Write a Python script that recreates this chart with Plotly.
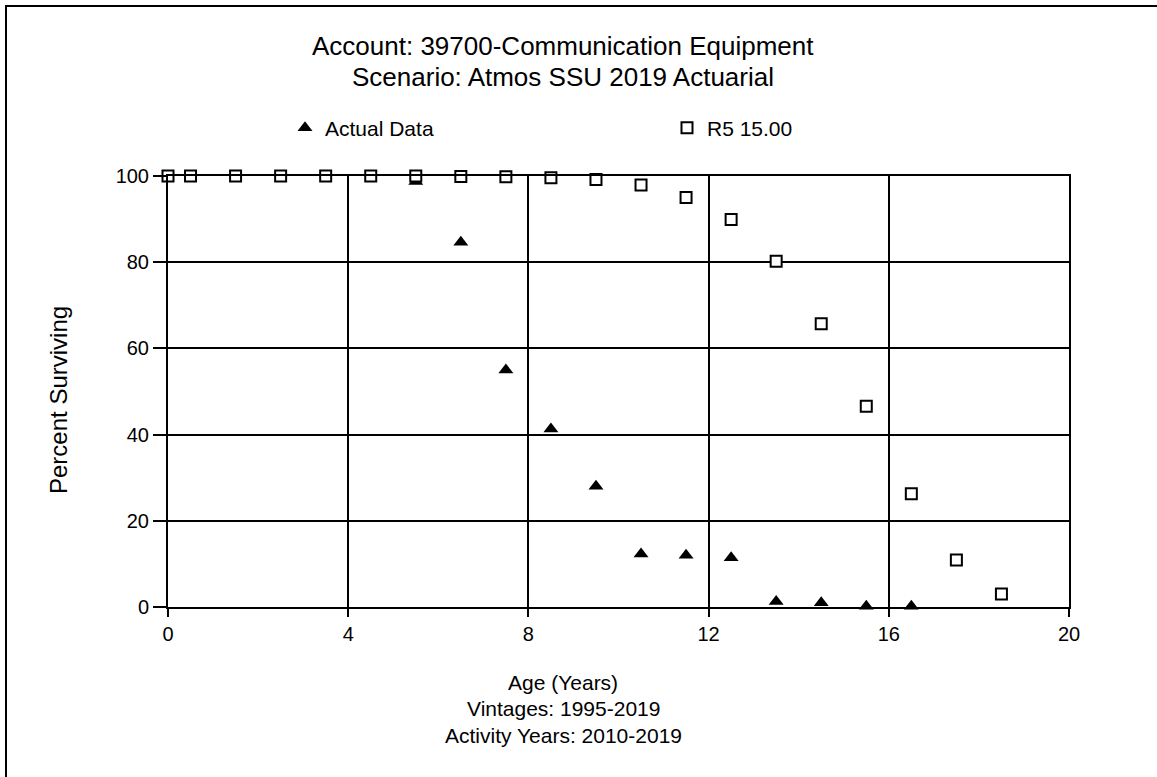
import plotly.graph_objects as go

# ---- data ----
age_actual = [5.5, 6.5, 7.5, 8.5, 9.5, 10.5, 11.5, 12.5, 13.5, 14.5, 15.5, 16.5]
pct_actual = [98.7, 84.6, 55.0, 41.3, 28.0, 12.3, 12.0, 11.4, 1.3, 1.0, 0.2, 0.2]

age_r5 = [0, 0.5, 1.5, 2.5, 3.5, 4.5, 5.5, 6.5, 7.5, 8.5, 9.5, 10.5,
          11.5, 12.5, 13.5, 14.5, 15.5, 16.5, 17.5, 18.5]
pct_r5 = [100, 100, 100, 100, 100, 100, 100, 99.9, 99.8, 99.6, 99.2, 97.9,
          95.0, 89.9, 80.2, 65.7, 46.6, 26.3, 10.9, 3.0]

x_ticks = [0, 4, 8, 12, 16, 20]
y_ticks = [0, 20, 40, 60, 80, 100]

title_lines = ["Account: 39700-Communication Equipment",
               "Scenario: Atmos SSU 2019 Actuarial"]
xlabel_lines = ["Age (Years)", "Vintages: 1995-2019", "Activity Years: 2010-2019"]
ylabel = "Percent Surviving"

FONT = "Liberation Sans, Arial, sans-serif"
W, H = 1157, 777
L, R, T, B = 168, 88, 176, 170
PW, PH = W - L - R, H - T - B


def px_x(p):
    return (p - L) / PW


def px_y(p):
    return (H - B - p) / PH


fig = go.Figure()
fig.add_trace(go.Scatter(
    x=age_actual, y=pct_actual, mode="markers", name="Actual Data",
    marker=dict(symbol="triangle-up", size=13, color="black",
                line=dict(width=0)),
    cliponaxis=False, legend="legend"))
fig.add_trace(go.Scatter(
    x=age_r5, y=pct_r5, mode="markers", name="R5 15.00",
    marker=dict(symbol="square", size=11, color="white",
                line=dict(width=2, color="black")),
    cliponaxis=False, legend="legend2"))

axis_common = dict(showgrid=True, gridcolor="black", gridwidth=1.8,
                   zeroline=False, showline=True, linecolor="black",
                   linewidth=2, mirror=True, ticks="outside",
                   tickcolor="black", tickwidth=1.5,
                   tickfont=dict(family=FONT, size=20, color="black"))

fig.update_xaxes(range=[0, 20], tickvals=x_ticks, ticklen=8, **axis_common)
fig.update_yaxes(range=[0, 100], tickvals=y_ticks, ticklen=13, **axis_common)

annotations = []
for line, ypx in zip(title_lines, [46, 77]):
    annotations.append(dict(text=line, x=px_x(563), y=px_y(ypx),
                            xref="paper", yref="paper", showarrow=False,
                            xanchor="center", yanchor="middle",
                            font=dict(family=FONT, size=26, color="black")))
for line, ypx in zip(xlabel_lines, [682, 708, 735]):
    annotations.append(dict(text=line, x=px_x(563), y=px_y(ypx),
                            xref="paper", yref="paper", showarrow=False,
                            xanchor="center", yanchor="middle",
                            font=dict(family=FONT, size=21, color="black")))
annotations.append(dict(text=ylabel, x=px_x(58), y=px_y(400),
                        xref="paper", yref="paper", showarrow=False,
                        textangle=-90, xanchor="center", yanchor="middle",
                        font=dict(family=FONT, size=24, color="black")))

legend_font = dict(family=FONT, size=21, color="black")
fig.update_layout(
    width=W, height=H,
    margin=dict(l=L, r=R, t=T, b=B, pad=0),
    paper_bgcolor="white", plot_bgcolor="white",
    showlegend=True,
    legend=dict(x=px_x(285), y=px_y(128), xanchor="left", yanchor="middle",
                font=legend_font, bgcolor="rgba(0,0,0,0)", borderwidth=0,
                itemclick=False),
    legend2=dict(x=px_x(667), y=px_y(128), xanchor="left", yanchor="middle",
                 font=legend_font, bgcolor="rgba(0,0,0,0)", borderwidth=0,
                 itemclick=False),
    annotations=annotations,
    shapes=[dict(type="rect", xref="paper", yref="paper",
                 x0=px_x(6), x1=px_x(1300), y0=px_y(900), y1=px_y(6),
                 line=dict(color="black", width=2), fillcolor="rgba(0,0,0,0)",
                 layer="above")],
)

fig.write_html("out.html", config={"displayModeBar": False},
               post_script="document.body.style.margin='0';document.body.style.overflow='hidden';")
